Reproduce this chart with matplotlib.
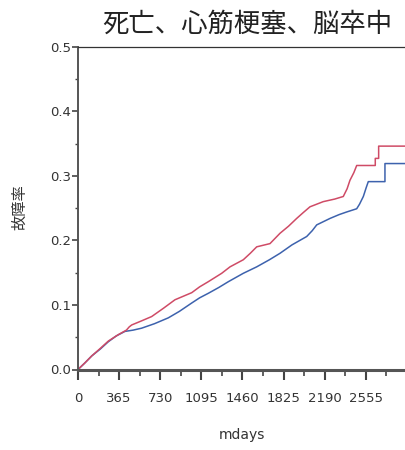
"""
Cumulative event rate (death, MI, stroke) by follow-up days
"""
import matplotlib
matplotlib.use('Agg')
import matplotlib.pyplot as plt
from matplotlib.ticker import MultipleLocator

# values (days, cumulative rate)
red_days = [0, 60, 122, 200, 269, 358, 430, 455, 477, 560, 654, 760, 861, 1010,
            1080, 1157, 1276, 1350, 1468, 1530, 1587, 1705, 1794, 1870, 1942,
            2000, 2060, 2178, 2280, 2356, 2390, 2415, 2450, 2475, 2640, 2640,
            2670, 2670, 2920]
red_rate = [0.0, 0.010, 0.021, 0.033, 0.044, 0.054, 0.061, 0.066, 0.069, 0.075,
            0.082, 0.095, 0.108, 0.119, 0.128, 0.136, 0.149, 0.159, 0.170, 0.180,
            0.190, 0.195, 0.211, 0.222, 0.234, 0.243, 0.252, 0.260, 0.264, 0.268,
            0.280, 0.293, 0.305, 0.316, 0.316, 0.327, 0.327, 0.346, 0.346]

blue_days = [0, 60, 122, 200, 269, 340, 417, 490, 565, 680, 802, 900, 1010, 1080,
             1157, 1250, 1335, 1468, 1587, 1700, 1794, 1900, 2031, 2080, 2120,
             2238, 2320, 2386, 2475, 2500, 2534, 2560, 2578, 2726, 2726, 2920]
blue_rate = [0.0, 0.010, 0.021, 0.032, 0.043, 0.052, 0.059, 0.061, 0.064, 0.071,
             0.080, 0.090, 0.103, 0.111, 0.118, 0.127, 0.136, 0.149, 0.159, 0.170,
             0.180, 0.193, 0.206, 0.215, 0.224, 0.234, 0.240, 0.244, 0.249, 0.256,
             0.268, 0.282, 0.291, 0.291, 0.319, 0.319]

x_ticks = [0, 365, 730, 1095, 1460, 1825, 2190, 2555]
title = '死亡、心筋梗塞、脳卒中'

plt.rcParams['font.family'] = ['DejaVu Sans', 'Noto Sans CJK JP']

fig = plt.figure(figsize=(4.06, 4.5), dpi=100)
ax = fig.add_axes([78 / 406, 80.5 / 450, 328.8 / 406, 322.8 / 450])

ax.plot(blue_days, blue_rate, color='#3d62ad', lw=1.1)
ax.plot(red_days, red_rate, color='#cf4b66', lw=1.1)

ax.set_xlim(0, 2920)
ax.set_ylim(0, 0.5)
ax.set_xticks(x_ticks)
ax.xaxis.set_minor_locator(MultipleLocator(182.5))
ax.yaxis.set_major_locator(MultipleLocator(0.1))
ax.yaxis.set_minor_locator(MultipleLocator(0.05))
ax.yaxis.set_major_formatter(plt.FuncFormatter(lambda v, p: f'{v:.1f}'))

ax.tick_params(axis='x', which='major', length=7, width=1.5, color='#444444',
               pad=9, labelsize=9.5, labelcolor='#333333')
ax.tick_params(axis='x', which='minor', length=4, width=1.2, color='#444444')
ax.tick_params(axis='y', which='major', length=4, width=1.2, color='#444444',
               pad=1, labelsize=9.5, labelcolor='#333333')
ax.tick_params(axis='y', which='minor', length=2, width=1.0, color='#444444')

ax.spines['right'].set_visible(False)
ax.spines['left'].set_color('#555555')
ax.spines['left'].set_linewidth(1.4)
ax.spines['bottom'].set_color('#555555')
ax.spines['bottom'].set_linewidth(2.2)
ax.spines['top'].set_color('#333333')
ax.spines['top'].set_linewidth(0.9)

ax.set_xlabel('mdays', fontsize=10, color='#333333', labelpad=17)
fig.text(20 / 406, 1 - 207 / 450, '故障率', rotation=90, fontsize=11,
         family=['Noto Sans CJK JP', 'DejaVu Sans'], color='#333333',
         ha='center', va='center')
fig.text(247 / 406, 1 - 24 / 450, title, fontsize=19,
         family=['Noto Sans CJK JP', 'DejaVu Sans'], color='#222222',
         ha='center', va='center')

plt.savefig('out.png', dpi=100)
